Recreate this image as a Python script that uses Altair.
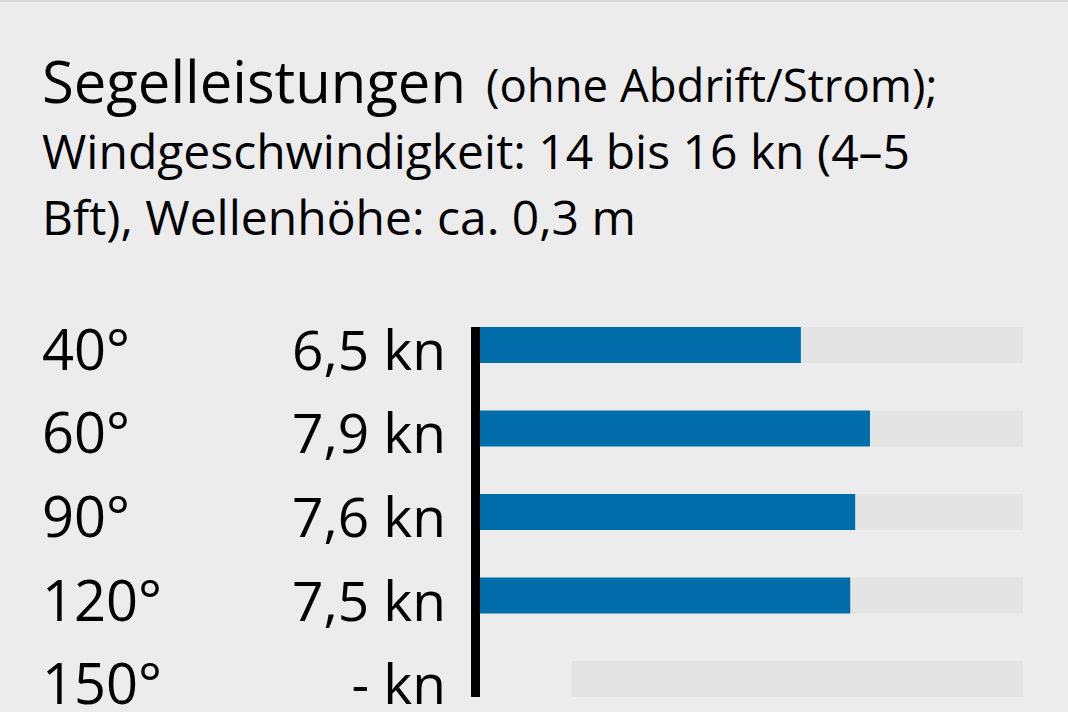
import altair as alt
import pandas as pd

# Segelleistungen je Windeinfallswinkel
angles = ["40°", "60°", "90°", "120°", "150°"]
speeds = [6.5, 7.9, 7.6, 7.5, None]
speed_labels = ["6,5 kn", "7,9 kn", "7,6 kn", "7,5 kn", "- kn"]
track_start = [0, 0, 0, 0, 1.86]
track_end = [11, 11, 11, 11, 11]

title_main = "Segelleistungen"
title_note = "(ohne Abdrift/Strom);"
subtitle_lines = [
    "Windgeschwindigkeit: 14 bis 16 kn (4–5",
    "Bft), Wellenhöhe: ca. 0,3 m",
]

FONT = "Open Sans"
BLUE = "#006dab"
BG = "#ececec"
TRACK = "#e4e4e4"

df = pd.DataFrame({
    "angle": angles,
    "speed": speeds,
    "label": speed_labels,
    "start": track_start,
    "end": track_end,
})

x_scale = alt.Scale(domain=[0, 11], range=[480, 1023], nice=False, zero=True)
y_enc = alt.Y("angle:N", sort=angles, axis=None,
              scale=alt.Scale(range=[327, 697], paddingInner=0.57, paddingOuter=0))

base = alt.Chart(df)

tracks = base.mark_bar(color=TRACK).encode(
    x=alt.X("start:Q", scale=x_scale, axis=None),
    x2="end:Q",
    y=y_enc,
)

bars = base.transform_filter("isValid(datum.speed)").mark_bar(color=BLUE).encode(
    x=alt.X("speed:Q", scale=x_scale, axis=None),
    x2=alt.value(480),
    y=y_enc,
)

angle_text = base.mark_text(
    font=FONT, fontSize=56, align="left", baseline="alphabetic", dy=25, color="black"
).encode(x=alt.value(42), y=y_enc, text="angle:N")

value_text = base.mark_text(
    font=FONT, fontSize=55, align="right", baseline="alphabetic", dy=25, color="black"
).encode(x=alt.value(446), y=y_enc, text="label:N")

axis_line = alt.Chart(pd.DataFrame({"a": [0]})).mark_rule(
    color="black", strokeWidth=9
).encode(x=alt.value(475.5), y=alt.value(327), y2=alt.value(697))

top_line = alt.Chart(pd.DataFrame({"a": [0]})).mark_rule(
    color="#d3d6da", strokeWidth=2
).encode(x=alt.value(0), x2=alt.value(1068), y=alt.value(1))

title_df = pd.DataFrame({"t": [title_main]})
note_df = pd.DataFrame({"t": [title_note]})
sub1_df = pd.DataFrame({"t": [subtitle_lines[0]]})
sub2_df = pd.DataFrame({"t": [subtitle_lines[1]]})

title_big = alt.Chart(title_df).mark_text(
    font=FONT, fontSize=58, align="left", baseline="alphabetic", color="black"
).encode(x=alt.value(42), y=alt.value(103), text="t:N")

title_small = alt.Chart(note_df).mark_text(
    font=FONT, fontSize=45.5, align="left", baseline="alphabetic", color="black"
).encode(x=alt.value(486), y=alt.value(102), text="t:N")

sub1 = alt.Chart(sub1_df).mark_text(
    font=FONT, fontSize=48, align="left", baseline="alphabetic", color="black"
).encode(x=alt.value(42), y=alt.value(169), text="t:N")

sub2 = alt.Chart(sub2_df).mark_text(
    font=FONT, fontSize=48, align="left", baseline="alphabetic", color="black"
).encode(x=alt.value(42), y=alt.value(235), text="t:N")

chart = alt.layer(
    top_line, tracks, bars, axis_line, angle_text, value_text,
    title_big, title_small, sub1, sub2,
).properties(
    width=1068, height=712,
    autosize=alt.AutoSizeParams(type="none"),
    padding=0,
    background=BG,
).configure_view(stroke=None)

chart.save("out.html", embed_options={"renderer": "svg", "actions": False})
